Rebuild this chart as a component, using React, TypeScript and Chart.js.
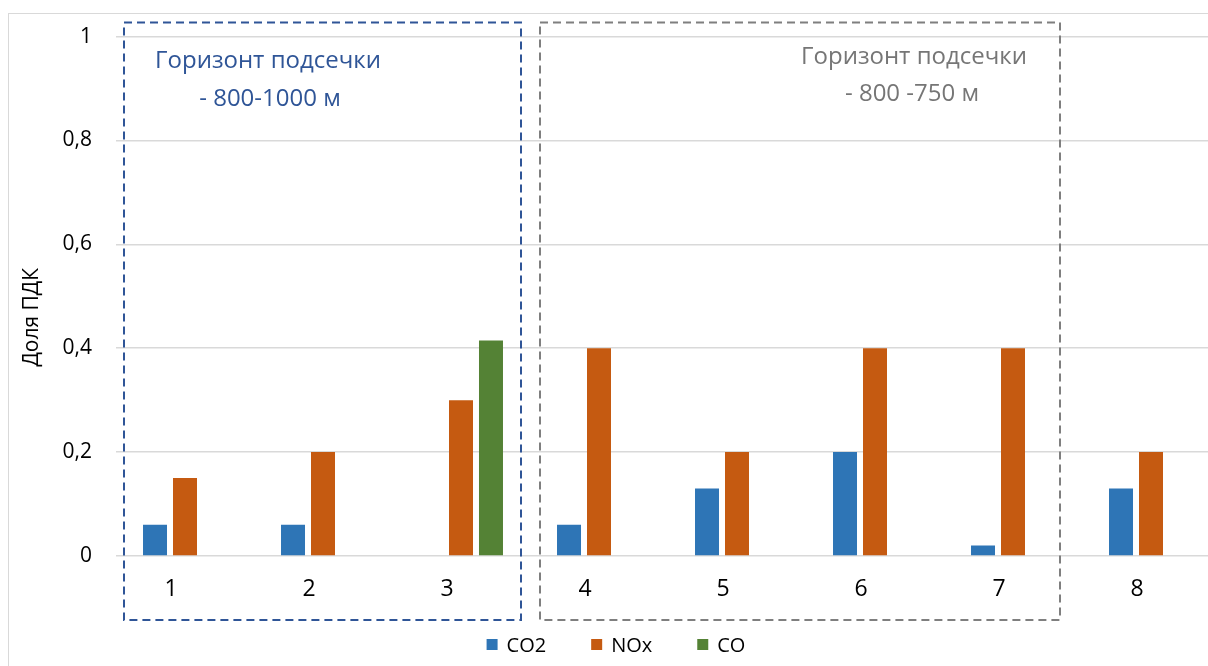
import React, { useEffect, useRef } from "react";
import { Chart, registerables } from "chart.js";

Chart.register(...registerables);

const categories = ["1", "2", "3", "4", "5", "6", "7", "8"];
const seriesNames = ["CO2", "NOx", "CO"];
const co2Values = [0.06, 0.06, null, 0.06, 0.13, 0.2, 0.02, 0.13];
const noxValues = [0.15, 0.2, 0.3, 0.4, 0.2, 0.4, 0.4, 0.2];
const coValues = [null, null, 0.415, null, null, null, null, null];
const yTickValues = [0, 0.2, 0.4, 0.6, 0.8, 1];
const yTitle = "Доля ПДК";
const group1Lines = ["Горизонт подсечки", "- 800-1000 м"];
const group2Lines = ["Горизонт подсечки", "- 800 -750 м"];
const group1Range = [0, 2];
const group2Range = [3, 6];

const FONT = "'Open Sans', 'Noto Sans', sans-serif";
const COLORS = ["#2E75B6", "#C55A11", "#548235"];

const decorPlugin = {
  id: "decor",
  beforeDraw(chart: any) {
    const ctx = chart.ctx;
    ctx.save();
    ctx.fillStyle = "#ffffff";
    ctx.fillRect(0, 0, chart.width, chart.height);
    ctx.strokeStyle = "#d9d9d9";
    ctx.lineWidth = 1;
    ctx.strokeRect(8.5, 13.5, chart.width + 20, chart.height + 20);
    ctx.restore();
  },
  afterDraw(chart: any) {
    const ctx = chart.ctx;
    const xs = chart.scales.x;
    const area = chart.chartArea;
    const cw = xs.getPixelForValue(1) - xs.getPixelForValue(0);
    const top = area.top - 14;
    const bottom = area.bottom + 64;

    ctx.save();
    ctx.lineWidth = 2;
    ctx.setLineDash([8, 5]);

    // group 1 box
    const l1 = xs.getPixelForValue(group1Range[0]) - cw / 2 + 8;
    const r1 = xs.getPixelForValue(group1Range[1]) + cw / 2 - 9;
    ctx.strokeStyle = "#2F5597";
    ctx.strokeRect(l1, top, r1 - l1, bottom - top);

    // group 2 box
    const l2 = xs.getPixelForValue(group2Range[0]) - cw / 2 + 10;
    const r2 = xs.getPixelForValue(group2Range[1]) + cw / 2 - 22;
    ctx.strokeStyle = "#7F7F7F";
    ctx.strokeRect(l2, top, r2 - l2, bottom - top);
    ctx.setLineDash([]);

    ctx.font = `24px ${FONT}`;
    ctx.textAlign = "center";
    ctx.textBaseline = "middle";
    ctx.fillStyle = "#2F5597";
    ctx.fillText(group1Lines[0], l1 + 144, top + 39);
    ctx.fillText(group1Lines[1], l1 + 146, top + 77);
    ctx.fillStyle = "#767676";
    ctx.fillText(group2Lines[0], r2 - 146, top + 35);
    ctx.fillText(group2Lines[1], r2 - 148, top + 72);

    // y title
    ctx.save();
    ctx.translate(32, (area.top + area.bottom) / 2 + 21);
    ctx.rotate(-Math.PI / 2);
    ctx.font = `21px ${FONT}`;
    ctx.fillStyle = "#000000";
    ctx.fillText(yTitle, 0, 0);
    ctx.restore();

    // legend
    ctx.font = `20px ${FONT}`;
    ctx.textAlign = "left";
    const items = chart.data.datasets.map((d: any) => ({
      text: d.label,
      color: d.backgroundColor,
      w: ctx.measureText(d.label).width,
    }));
    const gap = 45;
    const total = items.reduce((s: number, it: any) => s + 20 + it.w, 0) + gap * (items.length - 1);
    let x = 616 - total / 2;
    const ly = 645;
    items.forEach((it: any) => {
      ctx.fillStyle = it.color;
      ctx.fillRect(x, ly - 6, 11, 11);
      ctx.fillStyle = "#000000";
      ctx.fillText(it.text, x + 20, ly + 1);
      x += 20 + it.w + gap;
    });
    ctx.restore();
  },
};

export default function App() {
  const ref = useRef<HTMLCanvasElement | null>(null);

  useEffect(() => {
    if (!ref.current) return;
    const values = [co2Values, noxValues, coValues];
    const chart = new Chart(ref.current, {
      type: "bar",
      data: {
        labels: categories,
        datasets: seriesNames.map((name, i) => ({
          label: name,
          data: values[i] as any,
          backgroundColor: COLORS[i],
          borderWidth: 0,
          categoryPercentage: 0.652,
          barPercentage: 0.8,
        })),
      },
      options: {
        animation: false,
        responsive: false,
        devicePixelRatio: 1,
        layout: { padding: { top: 36, right: 20, left: 0, bottom: 0 } },
        plugins: {
          legend: { display: false },
          tooltip: { enabled: false },
        },
        scales: {
          x: {
            grid: { display: false, drawTicks: false },
            border: { display: false },
            ticks: {
              color: "#000000",
              font: { family: FONT, size: 23 },
              padding: 20,
              labelOffset: -14,
            },
            afterFit: (s: any) => {
              s.height = 110;
            },
          },
          y: {
            min: 0,
            max: 1,
            afterBuildTicks: (s: any) => {
              s.ticks = yTickValues.map((v) => ({ value: v }));
            },
            grid: { color: "#d9d9d9", lineWidth: 1.5, drawTicks: false },
            border: { display: false },
            ticks: {
              color: "#000000",
              font: { family: FONT, size: 21 },
              padding: 24,
              callback: (v: any) => String(v).replace(".", ","),
            },
            afterFit: (s: any) => {
              s.width = 116;
            },
          },
        },
      },
      plugins: [decorPlugin],
    });
    return () => chart.destroy();
  }, []);

  return (
    <div
      style={{
        position: "fixed",
        left: 0,
        top: 0,
        width: 1208,
        height: 666,
        overflow: "hidden",
        background: "#ffffff",
      }}
    >
      <canvas ref={ref} width={1240} height={666} style={{ width: 1240, height: 666, display: "block" }} />
    </div>
  );
}
